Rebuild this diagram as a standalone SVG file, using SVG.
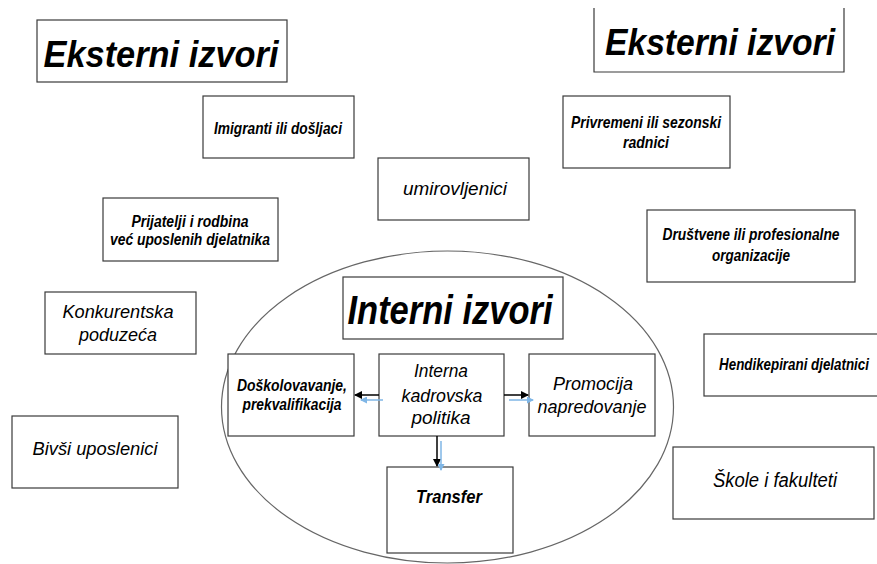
<svg xmlns="http://www.w3.org/2000/svg" width="877" height="564" viewBox="0 0 877 564">
<style>
.box{fill:#fff;stroke:#3a3a3a;stroke-width:1.2}
text{font-family:"Liberation Sans",Arial,sans-serif;font-style:italic;fill:#000;text-anchor:middle}
.b{font-weight:bold}
.blk{stroke:#000;stroke-width:1.5;fill:none}
.blu{stroke:#7fb6e6;stroke-width:1.5;fill:none}
</style>
<defs>
<marker id="ah" markerWidth="8" markerHeight="8" refX="7" refY="4" orient="auto" markerUnits="userSpaceOnUse"><path d="M0,0 L8,4 L0,8 Z" fill="#000"/></marker>
<marker id="bh" markerWidth="7" markerHeight="7" refX="6" refY="3.5" orient="auto" markerUnits="userSpaceOnUse"><path d="M0,0 L7,3.5 L0,7 Z" fill="#7fb6e6"/></marker>
</defs>
<rect width="877" height="564" fill="#fff"/>
<ellipse cx="447.5" cy="407" rx="226" ry="156" fill="none" stroke="#666" stroke-width="1.2"/>

<g id="ext-left">
<rect class="box" x="37" y="20" width="250" height="62"/>
<text class="b" x="161" y="67" font-size="37" textLength="235" lengthAdjust="spacingAndGlyphs">Eksterni izvori</text>
</g>
<g id="ext-right">
<path class="box" d="M594,8 V72 H844 V8" fill="#fff"/>
<text class="b" x="720" y="55" font-size="37" textLength="230" lengthAdjust="spacingAndGlyphs">Eksterni izvori</text>
</g>
<g id="imigranti">
<rect class="box" x="203" y="96" width="151" height="62"/>
<text class="b" x="278" y="134" font-size="16.5" textLength="128" lengthAdjust="spacingAndGlyphs">Imigranti ili došljaci</text>
</g>
<g id="privremeni">
<rect class="box" x="563" y="96" width="167" height="72"/>
<text class="b" x="646" y="128" font-size="16.5" textLength="150" lengthAdjust="spacingAndGlyphs">Privremeni ili sezonski</text>
<text class="b" x="646" y="148" font-size="16.5" textLength="46" lengthAdjust="spacingAndGlyphs">radnici</text>
</g>
<g id="umirovljenici">
<rect class="box" x="378" y="158" width="151" height="62"/>
<text x="455" y="195" font-size="19" textLength="104" lengthAdjust="spacingAndGlyphs">umirovljenici</text>
</g>
<g id="prijatelji">
<rect class="box" x="103" y="198" width="175" height="63"/>
<text class="b" x="190" y="227" font-size="16" textLength="117" lengthAdjust="spacingAndGlyphs">Prijatelji i rodbina</text>
<text class="b" x="190" y="245" font-size="16" textLength="160" lengthAdjust="spacingAndGlyphs">već uposlenih djelatnika</text>
</g>
<g id="konkurentska">
<rect class="box" x="45" y="292" width="151" height="62"/>
<text x="118" y="318" font-size="18" textLength="111" lengthAdjust="spacingAndGlyphs">Konkurentska</text>
<text x="118" y="341" font-size="18" textLength="78" lengthAdjust="spacingAndGlyphs">poduzeća</text>
</g>
<g id="drustvene">
<rect class="box" x="647" y="210" width="208" height="72"/>
<text class="b" x="751" y="240" font-size="16.5" textLength="177" lengthAdjust="spacingAndGlyphs">Društvene ili profesionalne</text>
<text class="b" x="751" y="261" font-size="16.5" textLength="78" lengthAdjust="spacingAndGlyphs">organizacije</text>
</g>
<g id="hendikepirani">
<rect class="box" x="704" y="334" width="180" height="62"/>
<text class="b" transform="translate(794,370) scale(0.81,1)" x="0" y="0" font-size="16.5">Hendikepirani djelatnici</text>
</g>
<g id="skole">
<rect class="box" x="673" y="447" width="201" height="72"/>
<text x="775" y="487" font-size="19.5" textLength="124" lengthAdjust="spacingAndGlyphs">Škole i fakulteti</text>
</g>
<g id="bivsi">
<rect class="box" x="12" y="416" width="166" height="72"/>
<text x="95" y="455" font-size="18.5" textLength="125" lengthAdjust="spacingAndGlyphs">Bivši uposlenici</text>
</g>

<g id="interni">
<rect class="box" x="343" y="277" width="220" height="62"/>
<text class="b" x="450" y="324" font-size="41" textLength="205" lengthAdjust="spacingAndGlyphs">Interni izvori</text>
</g>
<g id="doskolovavanje">
<rect class="box" x="228" y="354" width="126" height="82"/>
<text class="b" x="292" y="391" font-size="17" textLength="110" lengthAdjust="spacingAndGlyphs">Doškolovavanje,</text>
<text class="b" x="292" y="410" font-size="17" textLength="99" lengthAdjust="spacingAndGlyphs">prekvalifikacija</text>
</g>
<g id="interna">
<rect class="box" x="379" y="354" width="125" height="82"/>
<text x="441" y="377" font-size="19" textLength="54" lengthAdjust="spacingAndGlyphs">Interna</text>
<text x="442" y="402" font-size="19" textLength="81" lengthAdjust="spacingAndGlyphs">kadrovska</text>
<text x="441" y="424" font-size="19" textLength="59" lengthAdjust="spacingAndGlyphs">politika</text>
</g>
<g id="promocija">
<rect class="box" x="529" y="354" width="126" height="82"/>
<text x="593" y="390" font-size="19" textLength="80" lengthAdjust="spacingAndGlyphs">Promocija</text>
<text x="592" y="413" font-size="19" textLength="109" lengthAdjust="spacingAndGlyphs">napredovanje</text>
</g>
<g id="transfer">
<rect class="box" x="387" y="467" width="126" height="86"/>
<text class="b" x="449" y="503" font-size="19" textLength="66" lengthAdjust="spacingAndGlyphs">Transfer</text>
</g>

<g id="connectors">
<line class="blk" x1="379" y1="395" x2="355" y2="395" marker-end="url(#ah)"/>
<line class="blk" x1="504" y1="395" x2="528" y2="395" marker-end="url(#ah)"/>
<line class="blk" x1="437" y1="436" x2="437" y2="466" marker-end="url(#ah)"/>
<line class="blu" x1="383" y1="400" x2="361" y2="400" marker-end="url(#bh)"/>
<line class="blu" x1="509" y1="400" x2="533" y2="400" marker-end="url(#bh)"/>
<line class="blu" x1="441" y1="441" x2="441" y2="470" marker-end="url(#bh)"/>
</g>
</svg>
